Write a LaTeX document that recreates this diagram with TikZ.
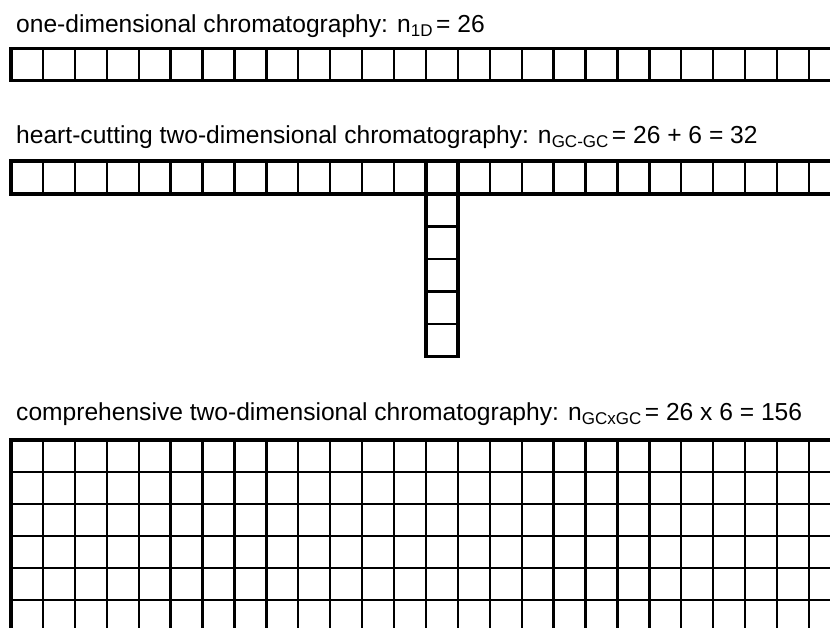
\documentclass[tikz,border=0pt]{standalone}
\usepackage{fontspec}
\setmainfont{Liberation Sans}
\newcommand\lowsub[1]{\raisebox{-4pt}{\fontsize{17}{17}\selectfont #1}\hspace{3.5pt}}
\begin{document}
\begin{tikzpicture}[x=1pt,y=-1pt,
  border/.style={line width=3.4pt},
  inner/.style={line width=2.3pt},
  innerh/.style={line width=2.8pt},
  lbl/.style={anchor=base west, inner sep=0pt, font=\fontsize{24.6}{29}\selectfont}]
\useasboundingbox (0,0) rectangle (830,628);
\def\xo{11}
\def\cw{31.92}
\begin{scope}
\clip (0,0) rectangle (830,628);
% row 1: one-dimensional
\foreach \k in {1,...,26}
  \draw[inner] ({\xo+\k*\cw},48.7) -- ({\xo+\k*\cw},80.8);
\draw[border] ({\xo+27*\cw},48.7) -- (\xo,48.7) -- (\xo,80.8) -- ({\xo+27*\cw},80.8);
% row 2: heart-cutting
\foreach \k in {1,...,12,15,16,...,26}
  \draw[inner] ({\xo+\k*\cw},161) -- ({\xo+\k*\cw},194);
\foreach \j in {1,...,4}
  \draw[inner] ({\xo+13*\cw},{194+\j*32.5}) -- ({\xo+14*\cw},{194+\j*32.5});
\draw[border] ({\xo+13*\cw},161) -- ({\xo+13*\cw},356.5) -- ({\xo+14*\cw},356.5) -- ({\xo+14*\cw},161);
\draw[border] ({\xo+27*\cw},161) -- (\xo,161) -- (\xo,194) -- ({\xo+27*\cw},194);
% grid: comprehensive
\foreach \k in {1,...,26}
  \draw[inner] ({\xo+\k*\cw},440) -- ({\xo+\k*\cw},640);
\foreach \j in {1,...,5}
  \draw[innerh] (\xo,{440+\j*32}) -- ({\xo+27*\cw},{440+\j*32});
\draw[border] (\xo,640) -- (\xo,440) -- ({\xo+27*\cw},440);
\end{scope}
\node[lbl] (t1) at (16,32.3) {one-dimensional chromatography: n\lowsub{1D}= 26};
\node[lbl] (t2) at (16,143.5) {heart-cutting two-dimensional chromatography: n\lowsub{GC-GC}= 26 + 6 = 32};
\node[lbl] (t3) at (16,420) {comprehensive two-dimensional chromatography: n\lowsub{GCxGC}= 26 x 6 = 156};
\end{tikzpicture}
\end{document}
